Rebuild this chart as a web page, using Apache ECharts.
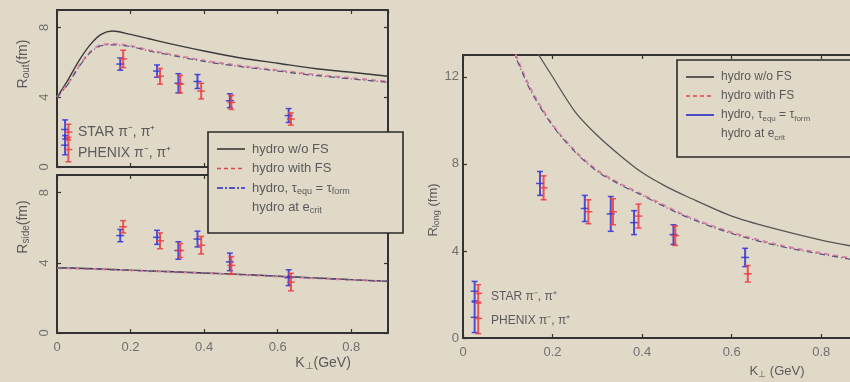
<!DOCTYPE html>
<html><head><meta charset="utf-8">
<script src="https://cdn.jsdelivr.net/npm/echarts@6/dist/echarts.min.js"></script>
<style>html,body{margin:0;padding:0;background:#e0d9c7;}#c{width:850px;height:382px;}</style>
</head><body><div id="c"></div><script>
// ---- data ----
const ktBlue = [0.172, 0.272, 0.330, 0.382, 0.470, 0.630];
const ktRed  = [0.180, 0.280, 0.335, 0.392, 0.474, 0.636];

const routBlue = [5.9, 5.5, 4.8, 4.9, 3.8, 2.95];
const routBlueErr = [0.35, 0.35, 0.55, 0.4, 0.4, 0.4];
const routRed = [6.2, 5.2, 4.75, 4.35, 3.7, 2.75];
const routRedErr = [0.5, 0.45, 0.5, 0.45, 0.4, 0.35];

const rsideBlue = [5.55, 5.45, 4.7, 5.35, 4.05, 3.15];
const rsideBlueErr = [0.35, 0.4, 0.5, 0.45, 0.5, 0.45];
const rsideRed = [6.05, 5.25, 4.7, 5.0, 3.85, 2.9];
const rsideRedErr = [0.35, 0.45, 0.4, 0.5, 0.5, 0.5];

const rlongBlue = [7.1, 5.95, 5.7, 5.3, 4.75, 3.7];
const rlongBlueErr = [0.55, 0.6, 0.8, 0.55, 0.45, 0.42];
const rlongRed = [6.9, 5.8, 5.8, 5.6, 4.7, 2.95];
const rlongRedErr = [0.55, 0.55, 0.6, 0.55, 0.45, 0.38];

const routX = [0, 0.03, 0.06, 0.09, 0.12, 0.15, 0.2, 0.25, 0.3, 0.4, 0.5, 0.6, 0.7, 0.8, 0.9];
const routSolid = [4.0, 5.0, 6.1, 7.0, 7.6, 7.8, 7.6, 7.35, 7.1, 6.65, 6.25, 5.95, 5.65, 5.43, 5.2];
const routDashed = [4.0, 4.8, 5.8, 6.6, 7.0, 7.05, 6.95, 6.7, 6.5, 6.1, 5.8, 5.55, 5.3, 5.1, 4.9];
const routDashDot = [4.0, 4.75, 5.75, 6.55, 6.95, 7.0, 6.9, 6.65, 6.45, 6.05, 5.75, 5.5, 5.25, 5.05, 4.85];

const rsideX = [0, 0.1, 0.2, 0.3, 0.4, 0.5, 0.6, 0.7, 0.8, 0.9];
const rsideSolid = [3.72, 3.66, 3.58, 3.5, 3.42, 3.34, 3.24, 3.14, 3.04, 2.95];
const rsideDashed = [3.70, 3.64, 3.57, 3.49, 3.41, 3.32, 3.22, 3.12, 3.03, 2.94];
const rsideDashDot = [3.71, 3.65, 3.57, 3.49, 3.41, 3.33, 3.23, 3.13, 3.03, 2.94];

const rlongSolidX = [0.16, 0.2, 0.25, 0.3, 0.35, 0.4, 0.45, 0.5, 0.6, 0.7, 0.8, 0.9];
const rlongSolid = [13.3, 12.0, 10.4, 9.3, 8.4, 7.6, 7.0, 6.5, 5.6, 5.0, 4.5, 4.1];
const rlongDashedX = [0.11, 0.15, 0.2, 0.25, 0.3, 0.35, 0.4, 0.5, 0.6, 0.7, 0.8, 0.9];
const rlongDashed = [13.4, 11.5, 9.8, 8.6, 7.7, 7.1, 6.6, 5.6, 4.85, 4.3, 3.9, 3.55];
const rlongDashDot = [13.3, 11.4, 9.75, 8.55, 7.65, 7.05, 6.55, 5.55, 4.8, 4.25, 3.85, 3.5];

// legend key error bars: [x, y, err]
const routKeyBlue = [[0.022, 2.15, 0.55], [0.022, 1.25, 0.55]];
const routKeyRed = [[0.031, 2.0, 0.45], [0.031, 1.0, 0.7]];
const rlongKeyBlue = [[0.026, 2.15, 0.45], [0.026, 0.95, 0.7]];
const rlongKeyRed = [[0.034, 2.05, 0.4], [0.034, 0.9, 0.7]];

const xTicks = [0, 0.2, 0.4, 0.6, 0.8];

// ---- helpers ----
const BLUE = 'rgba(50,50,215,0.85)';
const RED = 'rgba(235,60,65,0.85)';
const FONT = 'Liberation Sans';
const TXT = '#5a5a5a';
const BG = '#e0d9c7';

function zip(xs, ys) { return xs.map((x, i) => [x, ys[i]]); }
function errData(xs, ys, es) { return xs.map((x, i) => [x, ys[i], es[i]]); }

function errRender(color) {
  return function (params, api) {
    const x = api.value(0), y = api.value(1), e = api.value(2);
    const t = api.coord([x, y + e]), b = api.coord([x, y - e]), m = api.coord([x, y]);
    const cw = 3;
    const st = { stroke: color, lineWidth: 2 };
    return { type: 'group', children: [
      { type: 'line', shape: { x1: t[0], y1: t[1], x2: b[0], y2: b[1] }, style: st },
      { type: 'line', shape: { x1: t[0] - cw, y1: t[1], x2: t[0] + cw, y2: t[1] }, style: { stroke: color, lineWidth: 1.5 } },
      { type: 'line', shape: { x1: b[0] - cw, y1: b[1], x2: b[0] + cw, y2: b[1] }, style: { stroke: color, lineWidth: 1.5 } },
      { type: 'line', shape: { x1: m[0] - 4, y1: m[1], x2: m[0] + 4, y2: m[1] }, style: { stroke: color, lineWidth: 1.5 } }
    ]};
  };
}
function errSeries(gi, data, color) {
  return { type: 'custom', xAxisIndex: gi * 2, yAxisIndex: gi * 2, data: data,
    encode: { x: 0, y: 1 }, renderItem: errRender(color), z: 5, clip: false };
}
function lineSeries(gi, data, kind) {
  let ls;
  if (kind === 'solid') ls = { color: '#3a3a3a', width: 1.4, type: 'solid' };
  else if (kind === 'dashed') ls = { color: 'rgb(215,130,160)', width: 2, type: [5, 4] };
  else ls = { color: 'rgb(90,80,130)', width: 1.2, type: [6, 3, 1, 3] };
  return { type: 'line', xAxisIndex: gi * 2, yAxisIndex: gi * 2, data: data, symbol: 'none',
    smooth: 0.3, lineStyle: ls, z: 3, clip: true, silent: true };
}

function xAx(gi, showLabels, max) {
  const common = { type: 'value', gridIndex: gi, min: 0, max: max, interval: 0.2,
    axisLine: { show: true, onZero: false, lineStyle: { color: '#333', width: 2 } },
    axisTick: { show: true, inside: true, length: 4, lineStyle: { color: '#333', width: 1.2 } },
    splitLine: { show: false } };
  return [
    Object.assign({}, common, { position: 'bottom',
      axisLabel: { show: showLabels, showMaxLabel: false, color: '#707070', fontFamily: FONT, fontSize: 13, margin: 8,
        formatter: v => xTicks.indexOf(Math.round(v * 10) / 10) >= 0 ? String(Math.round(v * 10) / 10) : '' } }),
    Object.assign({}, common, { position: 'top', axisLabel: { show: false } })
  ];
}
function yAx(gi, max, rotate) {
  const common = { type: 'value', gridIndex: gi, min: 0, max: max, interval: 4,
    axisLine: { show: true, onZero: false, lineStyle: { color: '#333', width: 2 } },
    axisTick: { show: true, inside: true, length: 4, lineStyle: { color: '#333', width: 1.2 } },
    splitLine: { show: false } };
  return [
    Object.assign({}, common, { position: 'left',
      axisLabel: { show: true, showMaxLabel: false, color: '#707070', fontFamily: FONT, fontSize: 13, margin: rotate ? 6 : 4, rotate: rotate ? 90 : 0 } }),
    Object.assign({}, common, { position: 'right', axisLabel: { show: false } })
  ];
}

const rich = {
  n: { fontFamily: FONT, fontSize: 14, fill: TXT },
  s: { fontFamily: FONT, fontSize: 10, fill: TXT, padding: [7, 0, 0, 0] },
  n2: { fontFamily: FONT, fontSize: 13, fill: TXT },
  s2: { fontFamily: FONT, fontSize: 9, fill: TXT, padding: [7, 0, 0, 0] }
};

function legendBox(x, y, w, h, fs) {
  const rowH = fs === 13 ? 19.5 : 19;
  const lx1 = x + 9, lx2 = x + 37, tx = x + 44;
  const r0 = y + 17;
  const sz = fs, ssz = fs - 4;
  const Z = 100;
  const rr = { a: { fontFamily: FONT, fontSize: sz, fill: TXT }, b: { fontFamily: FONT, fontSize: ssz, fill: TXT, padding: [7, 0, 0, 0] } };
  return [
    { type: 'rect', z: Z, shape: { x: x, y: y, width: w, height: h }, style: { fill: BG, stroke: '#2a2a2a', lineWidth: 1.6 } },
    { type: 'line', z: Z + 1, shape: { x1: lx1, y1: r0, x2: lx2, y2: r0 }, style: { stroke: '#222', lineWidth: 1.4 } },
    { type: 'line', z: Z + 1, shape: { x1: lx1, y1: r0 + rowH, x2: lx2, y2: r0 + rowH }, style: { stroke: 'rgb(220,70,80)', lineWidth: 1.4, lineDash: [4, 3] } },
    { type: 'line', z: Z + 1, shape: { x1: lx1, y1: r0 + 2 * rowH, x2: lx2, y2: r0 + 2 * rowH }, style: { stroke: 'rgb(40,40,200)', lineWidth: 1.6, lineDash: fs === 13 ? [6, 2, 2, 2] : null } },
    { type: 'text', z: Z + 1, x: tx, y: r0, style: { text: 'hydro w/o FS', fontFamily: FONT, fontSize: sz, fill: TXT, verticalAlign: 'middle' } },
    { type: 'text', z: Z + 1, x: tx, y: r0 + rowH, style: { text: 'hydro with FS', fontFamily: FONT, fontSize: sz, fill: TXT, verticalAlign: 'middle' } },
    { type: 'text', z: Z + 1, x: tx, y: r0 + 2 * rowH, style: { text: '{a|hydro, τ}{b|equ}{a| = τ}{b|form}', rich: rr, verticalAlign: 'middle' } },
    { type: 'text', z: Z + 1, x: tx, y: r0 + 3 * rowH, style: { text: '{a|hydro at e}{b|crit}', rich: rr, verticalAlign: 'middle' } }
  ];
}

const chart = echarts.init(document.getElementById('c'), null, { renderer: 'canvas' });
const option = {
  backgroundColor: BG,
  animation: false,
  grid: [
    { left: 57, top: 10, width: 331, height: 157, outerBoundsMode: 'none', containLabel: false },
    { left: 57, top: 175, width: 331, height: 158, outerBoundsMode: 'none', containLabel: false },
    { left: 463, top: 55, width: 403, height: 283, outerBoundsMode: 'none', containLabel: false }
  ],
  xAxis: [].concat(xAx(0, false, 0.9), xAx(1, true, 0.9), xAx(2, true, 0.9)),
  yAxis: [].concat(yAx(0, 9, true), yAx(1, 9, true), yAx(2, 13, false)),
  series: [
    lineSeries(0, zip(routX, routSolid), 'solid'),
    lineSeries(0, zip(routX, routDashed), 'dashed'),
    lineSeries(0, zip(routX, routDashDot), 'dashdot'),
    errSeries(0, errData(ktBlue, routBlue, routBlueErr), BLUE),
    errSeries(0, errData(ktRed, routRed, routRedErr), RED),
    errSeries(0, routKeyBlue, BLUE),
    errSeries(0, routKeyRed, RED),

    lineSeries(1, zip(rsideX, rsideSolid), 'solid'),
    lineSeries(1, zip(rsideX, rsideDashed), 'dashed'),
    lineSeries(1, zip(rsideX, rsideDashDot), 'dashdot'),
    errSeries(1, errData(ktBlue, rsideBlue, rsideBlueErr), BLUE),
    errSeries(1, errData(ktRed, rsideRed, rsideRedErr), RED),

    Object.assign(lineSeries(2, zip(rlongSolidX, rlongSolid), 'solid'), { lineStyle: { color: '#555', width: 1.3 } }),
    lineSeries(2, zip(rlongDashedX, rlongDashed), 'dashed'),
    lineSeries(2, zip(rlongDashedX, rlongDashDot), 'dashdot'),
    errSeries(2, errData(ktBlue, rlongBlue, rlongBlueErr), BLUE),
    errSeries(2, errData(ktRed, rlongRed, rlongRedErr), RED),
    errSeries(2, rlongKeyBlue, BLUE),
    errSeries(2, rlongKeyRed, RED)
  ],
  graphic: [
    { type: 'text', x: 23, y: 64, rotation: Math.PI / 2, style: { text: '{n|R}{s|out}{n|(fm)}', rich: rich, align: 'center', verticalAlign: 'middle' } },
    { type: 'text', x: 23, y: 227, rotation: Math.PI / 2, style: { text: '{n|R}{s|side}{n|(fm)}', rich: rich, align: 'center', verticalAlign: 'middle' } },
    { type: 'text', x: 433, y: 210, rotation: Math.PI / 2, style: { text: '{n2|R}{s2|long}{n2| (fm)}', rich: rich, align: 'center', verticalAlign: 'middle' } },
    { type: 'text', x: 323, y: 363, style: { text: '{n|K}{s|⊥}{n|(GeV)}', rich: rich, align: 'center', verticalAlign: 'middle' } },
    { type: 'text', x: 777, y: 371, style: { text: '{n2|K}{s2|⊥}{n2| (GeV)}', rich: rich, align: 'center', verticalAlign: 'middle' } },
    { type: 'text', x: 78, y: 132, style: { text: 'STAR π⁻, π⁺', fontFamily: FONT, fontSize: 14, fill: TXT, verticalAlign: 'middle' } },
    { type: 'text', x: 78, y: 153, style: { text: 'PHENIX π⁻, π⁺', fontFamily: FONT, fontSize: 14, fill: TXT, verticalAlign: 'middle' } },
    { type: 'text', x: 491, y: 297, style: { text: 'STAR π⁻, π⁺', fontFamily: FONT, fontSize: 12, fill: TXT, verticalAlign: 'middle' } },
    { type: 'text', x: 491, y: 321, style: { text: 'PHENIX π⁻, π⁺', fontFamily: FONT, fontSize: 12, fill: TXT, verticalAlign: 'middle' } }
  ].concat(legendBox(208, 132, 195, 101, 13), legendBox(677, 60, 200, 97, 12))
};
chart.setOption(option);
</script></body></html>
